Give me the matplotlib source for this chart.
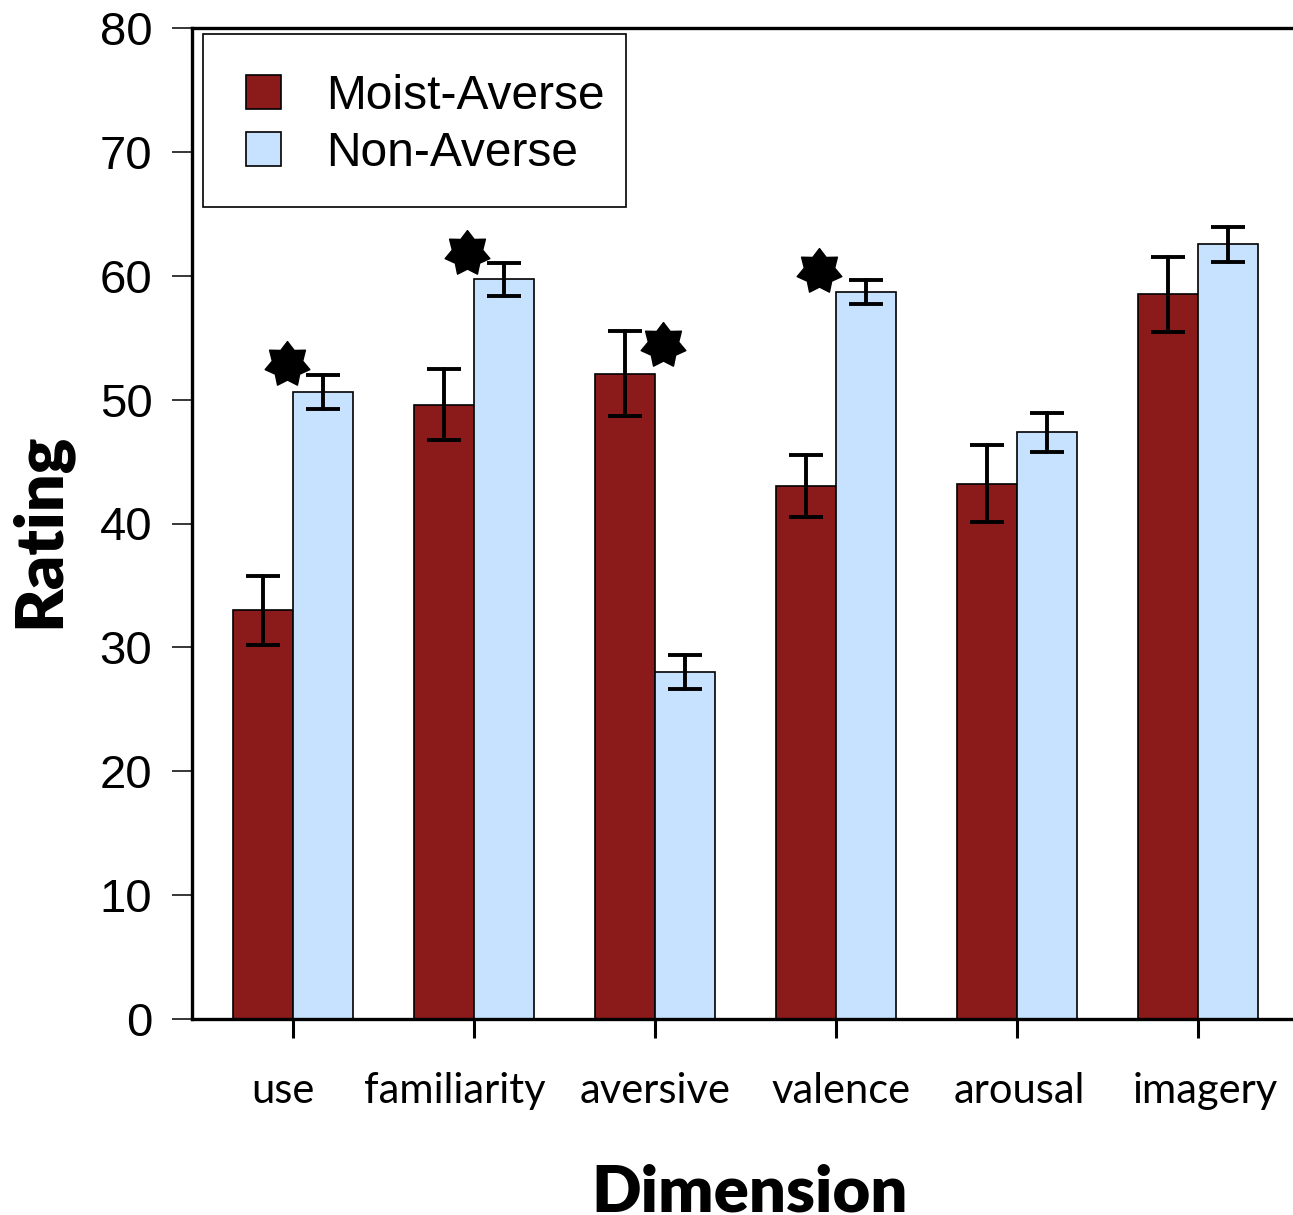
import numpy as np
import matplotlib
matplotlib.use('Agg')
import matplotlib.pyplot as plt
from matplotlib.path import Path
from matplotlib.patches import Rectangle

categories = ['use', 'familiarity', 'aversive', 'valence', 'arousal', 'imagery']
moist_averse = [33.0, 49.6, 52.1, 43.0, 43.2, 58.5]
moist_err = [2.8, 2.85, 3.45, 2.5, 3.1, 3.05]
non_averse = [50.6, 59.7, 28.0, 58.7, 47.35, 62.55]
non_err = [1.35, 1.35, 1.4, 0.95, 1.55, 1.4]

# significance stars: group index, offset from group centre, height
star_groups = [0, 1, 2, 3]
star_offsets = [-0.035, -0.04, 0.045, -0.095]
star_heights = [52.9, 61.8, 54.4, 60.4]

W, H = 1293, 1215
fig = plt.figure(figsize=(W / 100, H / 100), dpi=100)
ax = fig.add_axes([192 / W, 1 - 1019 / H, (1299 - 192) / W, (1019 - 28) / H])

x = np.arange(len(categories))
bw = 0.333
err_kw = dict(elinewidth=2.8, capsize=12, capthick=2.8, ecolor='black')

ax.bar(x - bw / 2, moist_averse, bw, color='#8b1a1a', edgecolor='black', linewidth=1.2,
       label='Moist-Averse', zorder=2)
ax.bar(x + bw / 2, non_averse, bw, color='#c6e2ff', edgecolor='black', linewidth=1.2,
       label='Non-Averse', zorder=2)
for xs, v, e in [(x - bw / 2, moist_averse, moist_err), (x + bw / 2, non_averse, non_err)]:
    eb = ax.errorbar(xs, v, yerr=e, fmt='none', zorder=3, **err_kw)
    for c in eb[1]:
        c.set_solid_capstyle('round')
    for l in eb[2]:
        l.set_capstyle('round')

star = Path.unit_regular_star(7, 0.68)
sx = [x[g] + o for g, o in zip(star_groups, star_offsets)]
ax.plot(sx, star_heights, linestyle='none', marker=star, markersize=33,
        color='black', zorder=4)

ax.set_xlim(-0.558, len(categories) - 1 + 0.558)
ax.set_ylim(0, 80)
ax.set_yticks(np.arange(0, 81, 10))
ax.set_xticks(x)
ax.set_xticklabels([])
ax.tick_params(axis='y', length=14.5, width=1.1, pad=14, labelsize=34)
ax.tick_params(axis='x', length=14, width=2.2)
for lab in ax.get_yticklabels():
    lab.set_fontfamily('Liberation Sans')
for s in ['left', 'bottom', 'top', 'right']:
    ax.spines[s].set_linewidth(2.4)

# category labels sit a little off their ticks in the original
label_shift = [-10, -19, 0, 5, 2, 7]
for xi, name, dx in zip(x, categories, label_shift):
    ax.annotate(name, (xi, 0), xycoords=('data', 'axes fraction'),
                xytext=(dx * 0.72, -72 * 0.72), textcoords='offset points',
                ha='center', va='center', fontfamily='Lato', fontsize=30,
                annotation_clip=False)

fig.text(40 / W, 1 - 530 / H, 'Rating', rotation=90, ha='center', va='center',
         fontfamily='Lato', fontweight='heavy', fontsize=48)
fig.text(750 / W, 1 - 1211 / H, 'Dimension', ha='center', va='baseline',
         fontfamily='Lato', fontweight='heavy', fontsize=47)

# legend frame drawn by hand, entries placed inside it
ax.add_patch(Rectangle((203 / W, 1 - 207 / H), (626 - 203) / W, (207 - 34) / H,
                       transform=fig.transFigure, facecolor='white', clip_on=False,
                       edgecolor='black', linewidth=1.2, zorder=5))
leg = ax.legend(loc='upper left', bbox_to_anchor=(246 / W, 1 - 74 / H),
                bbox_transform=fig.transFigure, frameon=False,
                prop={'family': 'Liberation Sans', 'size': 34.5},
                borderpad=0, borderaxespad=0,
                handlelength=0.72, handleheight=0.72, handletextpad=0.95, labelspacing=0.25)
leg.set_zorder(6)

fig.savefig('out.png', dpi=100)
